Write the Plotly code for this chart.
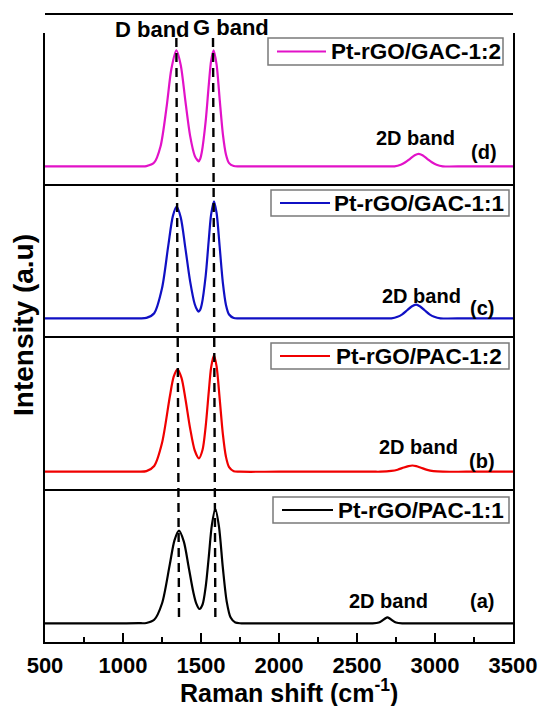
import plotly.graph_objects as go
from plotly.subplots import make_subplots

# ---------------- data ----------------
# Panel (a) Pt-rGO/PAC-1:1
shift_a = [500, 1000, 1100, 1150, 1200, 1250, 1300, 1330, 1359, 1390, 1420, 1450, 1470, 1490,
           1510, 1530, 1550, 1570, 1592, 1615, 1640, 1665, 1690, 1720, 1760, 2000, 2500, 2600,
           2640, 2660, 2680, 2695, 2710, 2730, 2750, 2790, 3000, 3500]
int_a = [0, 0, 1, 3, 35, 198, 589, 830, 926, 817, 571, 317, 197, 143,
         188, 365, 667, 986, 1143, 969, 556, 216, 57, 7, 0, 0, 0, 0,
         8, 25, 48, 60, 48, 25, 8, 0, 0, 0]

# Panel (b) Pt-rGO/PAC-1:2
shift_b = [500, 1000, 1100, 1150, 1200, 1250, 1300, 1325, 1349, 1375, 1400, 1430, 1460, 1487,
           1510, 1530, 1550, 1565, 1583, 1600, 1620, 1640, 1660, 1680, 1710, 1750, 2000, 2600,
           2650, 2720, 2760, 2800, 2830, 2855, 2880, 2910, 2950, 2990, 3050, 3200, 3500]
int_b = [0, 0, 1, 6, 57, 286, 750, 950, 1024, 938, 730, 436, 212, 134,
         219, 454, 803, 1043, 1164, 1053, 725, 378, 149, 45, 4, 0, 0, 0,
         0, 8, 20, 42, 56, 62, 56, 40, 18, 6, 0, 0, 0]

# Panel (c) Pt-rGO/GAC-1:1
shift_c = [500, 1000, 1100, 1150, 1200, 1250, 1290, 1320, 1344, 1370, 1400, 1430, 1460, 1475,
           1485, 1495, 1505, 1530, 1550, 1565, 1583, 1600, 1620, 1640, 1660, 1680, 1710, 1750,
           2000, 2650, 2720, 2760, 2790, 2820, 2850, 2879, 2905, 2935, 2965, 2995, 3035, 3200, 3500]
int_c = [0, 0, 0, 4, 51, 300, 724, 1024, 1116, 1009, 700, 372, 140, 85,
         66, 85, 140, 425, 788, 1039, 1170, 1053, 710, 357, 134, 38, 3, 0,
         0, 0, 0, 15, 40, 78, 118, 137, 118, 78, 40, 15, 0, 0, 0]

# Panel (d) Pt-rGO/GAC-1:2
shift_d = [500, 1000, 1100, 1150, 1200, 1240, 1280, 1310, 1342, 1370, 1400, 1430, 1460, 1475,
           1485, 1495, 1505, 1530, 1550, 1565, 1581, 1600, 1620, 1640, 1660, 1680, 1710, 1750,
           2000, 2700, 2740, 2780, 2810, 2840, 2870, 2895, 2920, 2950, 2980, 3010, 3050, 3200, 3500]
int_d = [0, 0, 0, 2, 37, 195, 600, 973, 1160, 1014, 651, 307, 105, 65,
         50, 75, 140, 452, 817, 1057, 1160, 1016, 665, 325, 119, 32, 3, 0,
         0, 0, 0, 15, 40, 75, 110, 124, 110, 75, 40, 15, 0, 0, 0]

sample_names = ["Pt-rGO/GAC-1:2", "Pt-rGO/GAC-1:1", "Pt-rGO/PAC-1:2", "Pt-rGO/PAC-1:1"]
panel_tags = ["(d)", "(c)", "(b)", "(a)"]
line_colors = ["#E212C8", "#1010C4", "#F00000", "#000000"]

tick_vals = [500, 1000, 1500, 2000, 2500, 3000, 3500]
tick_text = ["500", "1000", "1500", "2000", "2500", "3000", "3500"]

# D and G band guide positions (top, bottom)
d_band_pos = [1342, 1359]
g_band_pos = [1577, 1592]

# ---------------- figure ----------------
W, H = 539, 706
L, R, T, B = 45, 26, 33, 64
plot_w = W - L - R
plot_h = H - T - B
FONT = "Liberation Sans, Arial, sans-serif"


def px_x(px):
    return (px - L) / plot_w


def px_y(py):
    return (H - B - py) / plot_h


fig = make_subplots(rows=4, cols=1, shared_xaxes=True, vertical_spacing=0)

xs = [shift_d, shift_c, shift_b, shift_a]
ys = [int_d, int_c, int_b, int_a]
for i in range(4):
    fig.add_trace(go.Scatter(x=xs[i], y=ys[i], mode="lines", name=sample_names[i],
                             line=dict(color=line_colors[i], width=2.2, shape="spline", smoothing=0.8),
                             showlegend=False),
                  row=i + 1, col=1)

# panel boundaries in px
bounds = [33, 184, 336, 489, 642]
yranges = [[-177, 1333], [-177, 1343], [-173, 1357], [-187, 1343]]

for i in range(4):
    yname = "yaxis" if i == 0 else f"yaxis{i+1}"
    xname = "xaxis" if i == 0 else f"xaxis{i+1}"
    fig.layout[yname].update(domain=[px_y(bounds[i + 1]), px_y(bounds[i])], range=yranges[i],
                             showline=True, mirror=True, linecolor="black", linewidth=2,
                             showticklabels=False, ticks="", showgrid=False, zeroline=False)
    fig.layout[xname].update(range=[500, 3500], showline=True, linecolor="black", linewidth=2,
                             showgrid=False, zeroline=False)
    if i < 3:
        fig.layout[xname].update(showticklabels=False, ticks="")
    else:
        fig.layout[xname].update(tickmode="array", tickvals=tick_vals, ticktext=tick_text,
                                 ticks="inside", ticklen=9, tickwidth=2, tickcolor="black",
                                 showticklabels=True,
                                 tickfont=dict(size=22, color="black", weight="bold", family=FONT),
                                 ticklabelstandoff=3,
                                 minor=dict(dtick=250, tick0=500, ticks="inside", ticklen=5,
                                            tickwidth=2, tickcolor="black"))

shapes = [
    dict(type="line", xref="paper", yref="paper", x0=0, x1=1, y0=px_y(14), y1=px_y(14),
         line=dict(color="black", width=2)),
    dict(type="line", xref="x4", yref="paper", x0=d_band_pos[0], x1=d_band_pos[1],
         y0=px_y(38), y1=px_y(619), line=dict(color="black", width=2.4, dash="9px,6px")),
    dict(type="line", xref="x4", yref="paper", x0=g_band_pos[0], x1=g_band_pos[1],
         y0=px_y(38), y1=px_y(619), line=dict(color="black", width=2.4, dash="9px,6px")),
]

annos = []


def add_text(txt, px, py, size, angle=0, anchor="center"):
    annos.append(dict(text=txt, xref="paper", yref="paper", x=px_x(px), y=px_y(py),
                      xanchor=anchor, yanchor="middle", showarrow=False, textangle=angle,
                      font=dict(size=size, color="black", family=FONT, weight="bold")))


# legend boxes (one per panel): box [left, right, top, bottom], sample line [x0, x1], text start
legend_box = [(268, 503, 38, 65), (271, 509, 190, 216), (271, 509, 343, 369), (273, 509, 497, 523)]
legend_line = [(277, 326), (280, 330), (280, 330), (282, 333)]
legend_text_x = [329, 332, 334, 336]
for i in range(4):
    lft, rgt, top, bot = legend_box[i]
    shapes.append(dict(type="rect", xref="paper", yref="paper", x0=px_x(lft), x1=px_x(rgt),
                       y0=px_y(bot), y1=px_y(top), fillcolor="white",
                       line=dict(color="#7a7a7a", width=1.5), layer="above"))
    cy = (top + bot) / 2
    shapes.append(dict(type="line", xref="paper", yref="paper", x0=px_x(legend_line[i][0]),
                       x1=px_x(legend_line[i][1]), y0=px_y(cy), y1=px_y(cy),
                       line=dict(color=line_colors[i], width=2.2), layer="above"))
    add_text(sample_names[i], legend_text_x[i], cy + 0.5, 22.5, anchor="left")

add_text("D band", 152, 29, 22)
add_text("G band", 231, 27, 22)
band2d_pos = [(415, 138), (421, 296), (418, 447), (388, 601)]
tag_pos = [(484, 152), (482, 308), (482, 461), (482, 601)]
for i in range(4):
    add_text("2D band", band2d_pos[i][0], band2d_pos[i][1], 20)
    add_text(panel_tags[i], tag_pos[i][0], tag_pos[i][1], 20)
add_text("Intensity (a.u)", 23, 325, 28, angle=-90)
add_text("Raman shift (cm<sup>-1</sup>)", 289, 691, 25)

fig.update_layout(width=W, height=H, margin=dict(l=L, r=R, t=T, b=B, autoexpand=False),
                  plot_bgcolor="white", paper_bgcolor="white", showlegend=False,
                  font=dict(family=FONT, color="black"),
                  shapes=shapes, annotations=annos)

fig.write_html("out.html", post_script="document.body.style.margin='0px';",
               config={"displayModeBar": False})
